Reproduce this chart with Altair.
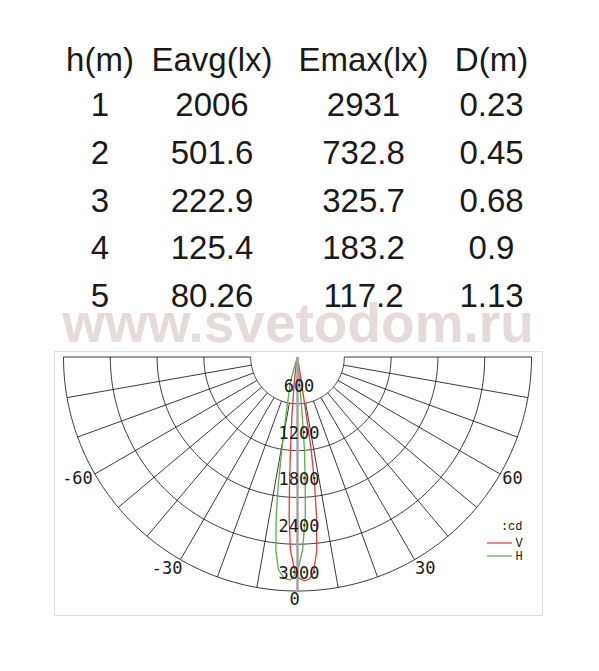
import altair as alt
import numpy as np
import pandas as pd

# ---------------- data ----------------
HEADERS = ["h(m)", "Eavg(lx)", "Emax(lx)", "D(m)"]
H_M = ["1", "2", "3", "4", "5"]
E_AVG = ["2006", "501.6", "222.9", "125.4", "80.26"]
E_MAX = ["2931", "732.8", "325.7", "183.2", "117.2"]
D_M = ["0.23", "0.45", "0.68", "0.9", "1.13"]

RING_VALUES = [600, 1200, 1800, 2400, 3000]
SPOKE_ANGLES = [-90, -80, -70, -60, -50, -40, -30, -20, -10,
                10, 20, 30, 40, 50, 60, 70, 80, 90]
ANGLE_LABELS = [-60, -30, 0, 30, 60]

SERIES = ["V", "H"]
V_ANGLES = [-90, -12, -9.0, -7.2, -5.4, -4.3, -3.6, -3.0, -2.1, -0.6, 0.5, 1.8,
            3.0, 4.2, 5.7, 6.8, 7.7, 8.4, 8.6, 8.8, 9.2, 10, 90]
V_CD = [0, 0, 150, 340, 770, 1200, 1620, 2050, 2475, 2770, 2840, 2870,
        2850, 2780, 2490, 2060, 1630, 1200, 770, 340, 80, 0, 0]
H_ANGLES = [-90, -20, -17, -15.5, -11.1, -9.6, -8.6, -7.6, -6.4, -5.1, -3.5, -1.9,
            -0.8, 0.3, 1.5, 2.8, 3.5, 4.3, 4.6, 4.9, 5.4, 6, 90]
H_CD = [0, 0, 150, 350, 780, 1210, 1640, 2065, 2490, 2740, 2840, 2860,
        2800, 2690, 2475, 2050, 1620, 1200, 770, 340, 80, 0, 0]

# ---------------- styling / geometry ----------------
RED = "#e33b3f"
GREEN = "#5aae4c"
TXT = "#1a1a1a"
PX_PER_CD = 0.078
VIEW_W, VIEW_H = 488, 264
CX, CY = 243.5, 6.0
XDOM = [-CX / PX_PER_CD, (VIEW_W - CX) / PX_PER_CD]
YDOM = [-(VIEW_H - CY) / PX_PER_CD, CY / PX_PER_CD]

xs = alt.Scale(domain=XDOM, nice=False, zero=False)
ys = alt.Scale(domain=YDOM, nice=False, zero=False)

SIN = "sin(datum.ang*PI/180)"
COS = "cos(datum.ang*PI/180)"

# ---------------- table ----------------
col_values = [H_M, E_AVG, E_MAX, D_M]
col_widths = [92, 132, 171, 85]
table_cols = []
for head, vals, w in zip(HEADERS, col_values, col_widths):
    df = pd.DataFrame({"col": head, "row": list(range(len(vals))), "val": vals})
    c = alt.Chart(df).mark_text(
        font="Liberation Sans", fontSize=33, color=TXT, baseline="middle"
    ).encode(
        x=alt.X("col:N", axis=None, scale=alt.Scale(type="point")),
        y=alt.Y("row:O", axis=None, scale=alt.Scale(type="point", padding=0)),
        text="val:N",
    ).properties(
        width=w, height=191,
        view=alt.ViewBackground(stroke="transparent"),
        title=alt.TitleParams(head, font="Liberation Sans", fontSize=33,
                              fontWeight="normal", color=TXT, anchor="middle",
                              baseline="alphabetic", offset=-14.3),
    )
    table_cols.append(c)
table = alt.hconcat(*table_cols, spacing=0, bounds="flush")

# ---------------- polar diagram ----------------
ring_rows = []
for r in RING_VALUES:
    for a in np.linspace(-90, 90, 181):
        ring_rows.append({"ring": r, "ang": float(a), "cd": r})
rings = alt.Chart(pd.DataFrame(ring_rows)).transform_calculate(
    px=f"datum.cd*{SIN}", py=f"-datum.cd*{COS}"
).mark_line(color="#222222", strokeWidth=0.9).encode(
    x=alt.X("px:Q", scale=xs, axis=None),
    y=alt.Y("py:Q", scale=ys, axis=None),
    detail="ring:N", order="ang:Q",
)

spoke_df = pd.DataFrame({"ang": SPOKE_ANGLES, "r0": RING_VALUES[0], "r1": RING_VALUES[-1]})
spokes = alt.Chart(spoke_df).transform_calculate(
    px=f"datum.r0*{SIN}", py=f"-datum.r0*{COS}",
    px2=f"datum.r1*{SIN}", py2=f"-datum.r1*{COS}",
).mark_rule(color="#222222", strokeWidth=0.9).encode(
    x=alt.X("px:Q", scale=xs, axis=None), y=alt.Y("py:Q", scale=ys, axis=None),
    x2="px2:Q", y2="py2:Q",
)

zero_df = pd.DataFrame({"ang": [0], "r0": [0], "r1": [RING_VALUES[-1]]})
zero_line = alt.Chart(zero_df).transform_calculate(
    px=f"datum.r0*{SIN}", py=f"-datum.r0*{COS}",
    px2=f"datum.r1*{SIN}", py2=f"-datum.r1*{COS}",
).mark_rule(color="#a4a4a4", strokeWidth=2.5).encode(
    x=alt.X("px:Q", scale=xs, axis=None), y=alt.Y("py:Q", scale=ys, axis=None),
    x2="px2:Q", y2="py2:Q",
)

curve_df = pd.concat([
    pd.DataFrame({"series": "V", "ang": V_ANGLES, "cd": V_CD}),
    pd.DataFrame({"series": "H", "ang": H_ANGLES, "cd": H_CD}),
])
curves = alt.Chart(curve_df).transform_calculate(
    px=f"datum.cd*{SIN}", py=f"-datum.cd*{COS}"
).mark_line(strokeWidth=1.3).encode(
    x=alt.X("px:Q", scale=xs, axis=None),
    y=alt.Y("py:Q", scale=ys, axis=None),
    order="ang:Q",
    color=alt.Color(
        "series:N",
        scale=alt.Scale(domain=SERIES, range=[RED, GREEN]),
        legend=alt.Legend(
            orient="none", legendX=439.5, legendY=170, title=":cd",
            titleFont="Liberation Mono", titleFontSize=12, titleFontWeight="normal",
            titleColor=TXT, titleAnchor="end", titlePadding=4,
            labelFont="Liberation Mono", labelFontSize=12, labelColor=TXT,
            symbolType="M-2.5,0H2.5", symbolSize=100, symbolStrokeWidth=1.2,
            labelOffset=10, rowPadding=1, padding=0,
        ),
    ),
)

ring_lab_df = pd.DataFrame({"ang": 0, "cd": RING_VALUES, "lab": [str(v) for v in RING_VALUES]})
ring_labels = alt.Chart(ring_lab_df).transform_calculate(
    px=f"datum.cd*{SIN}", py=f"-datum.cd*{COS}"
).mark_text(font="DejaVu Sans Mono", fontSize=17, color=TXT,
            baseline="middle", dy=-17, dx=1.5).encode(
    x=alt.X("px:Q", scale=xs, axis=None), y=alt.Y("py:Q", scale=ys, axis=None),
    text="lab:N",
)

ang_df = pd.DataFrame({"ang": ANGLE_LABELS, "cd": RING_VALUES[-1],
                       "lab": [str(a) for a in ANGLE_LABELS]})
groups = [
    ("datum.ang <= -45", "right", "middle", -2, 4.5),
    ("datum.ang < 0 && datum.ang > -45", "right", "top", 2, 1),
    ("datum.ang == 0", "center", "top", -3, 1),
    ("datum.ang > 0 && datum.ang < 45", "left", "top", 0.5, 1),
    ("datum.ang >= 45", "left", "middle", 2, 4.5),
]
angle_layers = []
for cond, al, bl, ddx, ddy in groups:
    angle_layers.append(
        alt.Chart(ang_df).transform_filter(cond).transform_calculate(
            px=f"datum.cd*{SIN}", py=f"-datum.cd*{COS}"
        ).mark_text(font="DejaVu Sans Mono", fontSize=17, color=TXT,
                    align=al, baseline=bl, dx=ddx, dy=ddy).encode(
            x=alt.X("px:Q", scale=xs, axis=None), y=alt.Y("py:Q", scale=ys, axis=None),
            text="lab:N",
        )
    )

polar = alt.layer(rings, spokes, curves, zero_line, ring_labels, *angle_layers).properties(
    width=VIEW_W, height=VIEW_H,
    title=alt.TitleParams("www.svetodom.ru", font="Liberation Sans", fontSize=55,
                          fontWeight="bold", color="#e5dbda", anchor="middle",
                          baseline="alphabetic", offset=-46),
)

chart = alt.vconcat(table, polar, spacing=245, bounds="flush").resolve_legend(
    color="independent"
).properties(
    padding={"left": 45, "top": 36, "right": 0, "bottom": 0}
).configure_view(stroke="black", strokeWidth=1).configure(background="white")

chart.save("out.html", embed_options={"renderer": "svg", "actions": False})
